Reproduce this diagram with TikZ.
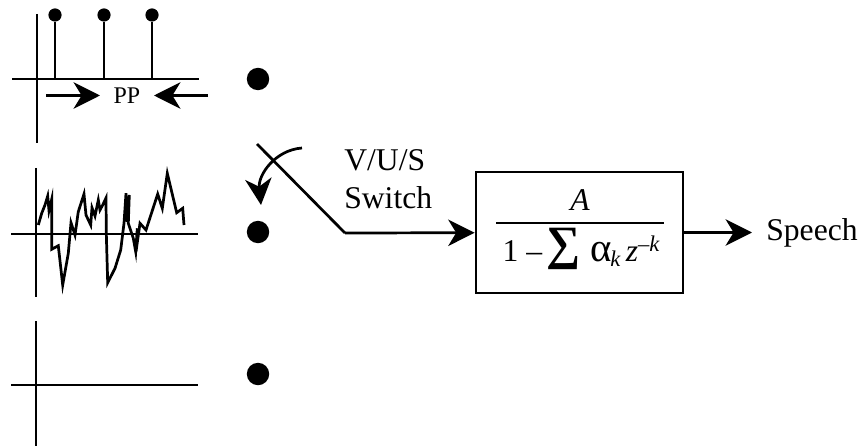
\documentclass[tikz,border=0pt]{standalone}
\usepackage{fontspec}
\setmainfont{Liberation Serif}
\usetikzlibrary{arrows.meta}
\tikzset{
  line/.style={line width=0.068cm},
  sig/.style={line width=0.068cm,-{Stealth[length=0.66cm,width=0.66cm,inset=0.2cm]}},
  contact/.style={circle,fill=black,inner sep=0,minimum size=0.56cm},
  head/.style={circle,fill=black,inner sep=0,minimum size=0.33cm},
  lab/.style={inner sep=0,font=\fontsize{22.5}{27}\selectfont}
}
\begin{document}
\begin{tikzpicture}[x=0.025cm,y=-0.025cm]
  \useasboundingbox (0,0) rectangle (860,446);
  % Pulse train
  \draw[line] (37,14) -- (37,143);
  \draw[line] (12,79) -- (199,79);
  \foreach \x/\n in {55/a,104/b,152/c} {
    \node[head] (head\n) at (\x,15) {};
    \draw[line] (head\n) -- (\x,79);
  }
  \node[inner sep=0,font=\fontsize{17}{20}\selectfont] (pp) at (127,95.5) {PP};
  \coordinate (ppl) at (46,95.5);
  \coordinate (ppr) at (208,95.5);
  \draw[sig] (ppl) -- (100,95.5);
  \draw[sig] (ppr) -- (154,95.5);
  % Noise
  \draw[line] (36,168) -- (36,297);
  \draw[line] (11,234) -- (198,234);
  \draw[line] (38.3,225) -- (41.7,213.3) -- (45,205) -- (47.7,196) -- (49,210.7)
    -- (51.7,199.3) -- (51.7,249.3) -- (58.3,245.7) -- (62.7,285) -- (68.3,253.3)
    -- (71,222.7) -- (75,235) -- (78.3,211.7) -- (84,194) -- (86,215) -- (90.7,225)
    -- (92,207.7) -- (95,216) -- (98.3,200) -- (100,210) -- (102.7,205) -- (106,198)
    -- (106.3,233.3) -- (107.7,282.7) -- (115,268.3) -- (120.7,250) -- (124,223.3)
    -- (126,193.3) -- (127.3,221.7) -- (129.3,195) -- (128.3,223.3) -- (133.3,238.3)
    -- (135.7,251.7) -- (137.3,228.3) -- (136,251.7) -- (140,223.3) -- (146,230)
    -- (157.7,194) -- (162.3,208.3) -- (167.3,173.3) -- (176.7,212.7) -- (182.7,208.3)
    -- (184,225);
  % Zero input
  \draw[line] (36,321) -- (36,446);
  \draw[line] (11,385) -- (198,385);
  % Switch contacts
  \node[contact] (pos1) at (258,79) {};
  \node[contact] (pos2) at (258,232) {};
  \node[contact] (pos3) at (258,374) {};
  % Switch
  \coordinate (arm) at (257,144);
  \coordinate (pivot) at (345,233);
  \coordinate (turn) at (302,148);
  \draw[line] (arm) -- (pivot);
  \draw[sig] (turn) .. controls (275,150) and (258,175) .. (261,205);
  \node[lab,anchor=base west,align=left] (swlabel) at (344,208) {V/U/S\\Switch};
  % Filter
  \node[draw,line width=0.068cm,minimum width=5.175cm,minimum height=3.025cm] (filter) at (579.5,232.5) {};
  \draw[sig] (pivot) -- (filter);
  \coordinate (barl) at (496,223);
  \coordinate (barr) at (664,223);
  \draw[line] (barl) -- (barr);
  \node[lab,anchor=base] (num) at (580,210) {\textit{A}};
  \node[lab,anchor=base east] (den) at (660,261) {1 –\kern3pt{\fontsize{34}{34}\selectfont\bfseries\raisebox{1pt}{∑}}\kern7pt{\fontsize{29}{29}\selectfont α}\kern-1pt\raisebox{-4pt}{\fontsize{16}{16}\selectfont\textit{k}}\,\textit{z}\raisebox{7pt}{\fontsize{16}{16}\selectfont –\textit{k}}};
  % Output
  \node[lab,anchor=west] (speech) at (766,232.5) {Speech};
  \draw[sig,shorten >=0.35cm] (filter) -- (speech);
\end{tikzpicture}
\end{document}
